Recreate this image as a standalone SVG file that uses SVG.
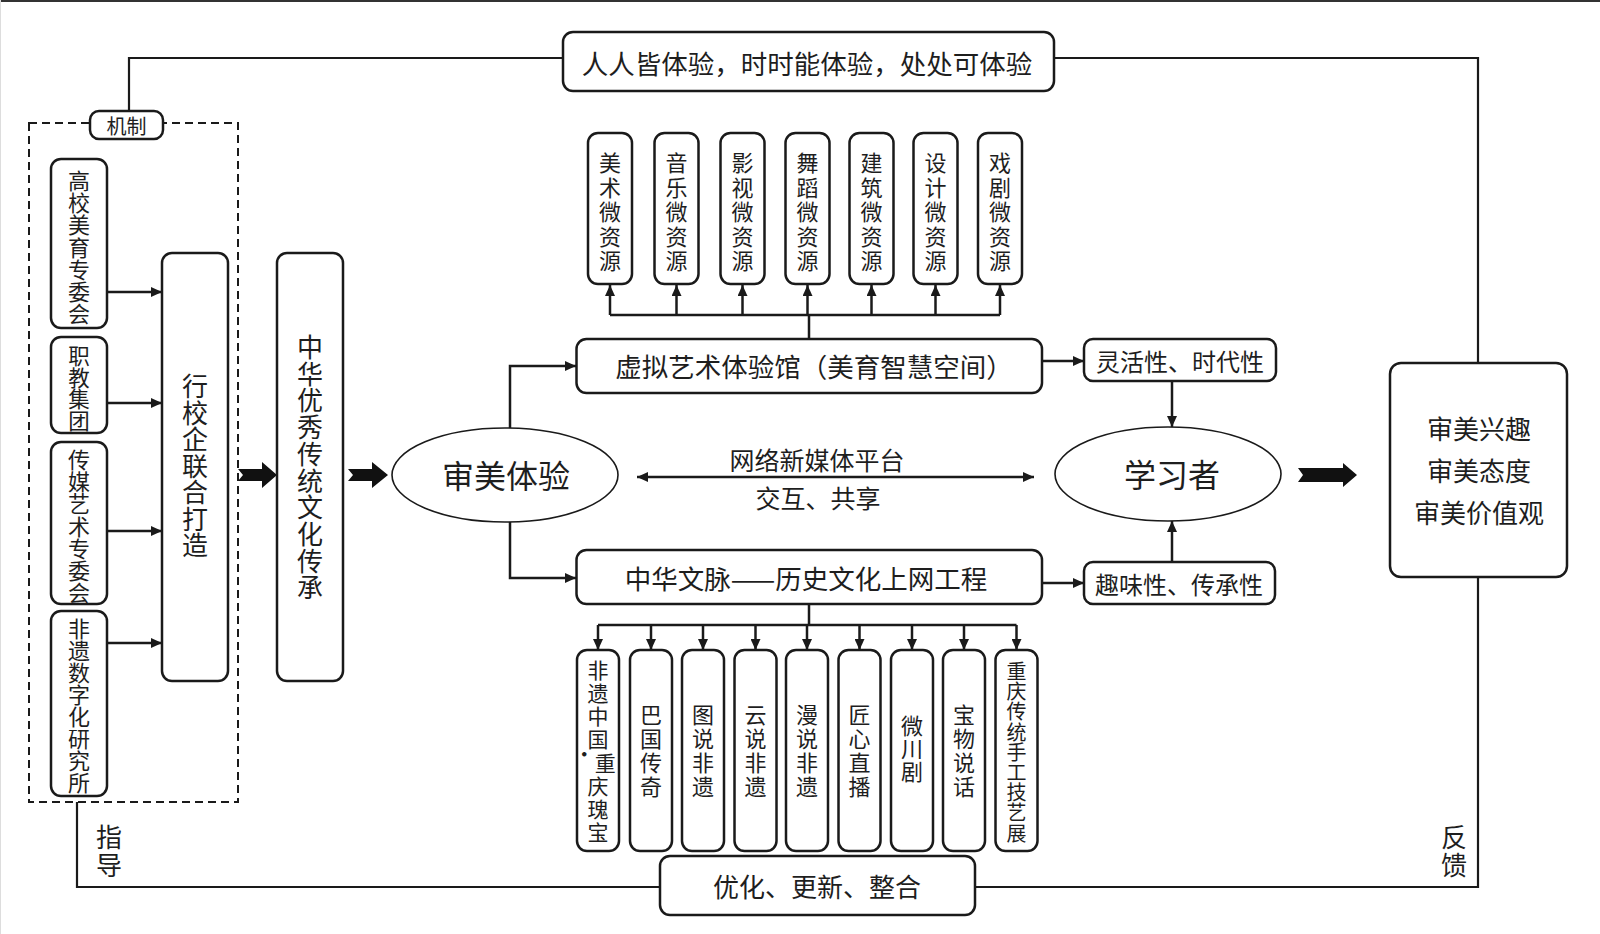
<svg xmlns="http://www.w3.org/2000/svg" width="1600" height="934" viewBox="0 0 1600 934">
<style>
.bx{fill:#fff;stroke:#1a1a1a;stroke-width:2.5}
.el{fill:#fff;stroke:#1a1a1a;stroke-width:1.6}
.ln{fill:none;stroke:#1a1a1a;stroke-width:2.5}
.fl{fill:none;stroke:#1a1a1a;stroke-width:2.2}
.t{font-family:"Noto Sans CJK SC","Noto Sans",sans-serif;fill:#1e1e1e;text-anchor:middle;dominant-baseline:central}
.fat{fill:#111}
</style>
<defs>
<marker id="ah" markerUnits="userSpaceOnUse" markerWidth="11" markerHeight="10" refX="11" refY="5" orient="auto-start-reverse">
<path d="M0,0 L11,5 L0,10 z" fill="#1a1a1a"/>
</marker>
</defs>
<rect x="0" y="0" width="1600" height="934" fill="#fff"/>
<line x1="0" y1="1" x2="1600" y2="1" stroke="#333" stroke-width="2"/>
<line x1="0.5" y1="0" x2="0.5" y2="934" stroke="#ddd" stroke-width="1"/>

<g id="connectors">
<path class="fl" d="M129,111 V58 H563"/>
<path class="fl" d="M1054,58 H1478 V362"/>
<path class="fl" d="M1478,577 V887 H975"/>
<path class="fl" d="M660,887 H77 V802"/>
<line class="ln" x1="107" y1="292" x2="162" y2="292" marker-end="url(#ah)"/>
<line class="ln" x1="107" y1="403" x2="162" y2="403" marker-end="url(#ah)"/>
<line class="ln" x1="107" y1="531" x2="162" y2="531" marker-end="url(#ah)"/>
<line class="ln" x1="107" y1="643" x2="162" y2="643" marker-end="url(#ah)"/>
<path class="fat" d="M238,469 L262,469 L262,462 L277,475 L262,488 L262,481 L238,481 L243,475 Z"/>
<path class="fat" d="M348,469 L372,469 L372,462 L388,475 L372,488 L372,481 L348,481 L353,475 Z"/>
<path class="fat" d="M1298,468 L1343,468 L1343,463 L1357,475 L1343,487 L1343,482 L1298,482 L1303,475 Z"/>
<path class="ln" d="M510,428 V366 H576" marker-end="url(#ah)"/>
<path class="ln" d="M510,522 V578 H576" marker-end="url(#ah)"/>
<line class="ln" x1="637" y1="477" x2="1034" y2="477" marker-start="url(#ah)" marker-end="url(#ah)"/>
<path class="ln" d="M809,339 V315"/>
<path class="ln" d="M610,315 H1000"/>
<line class="ln" x1="610" y1="315" x2="610" y2="285" marker-end="url(#ah)"/>
<line class="ln" x1="676.5" y1="315" x2="676.5" y2="285" marker-end="url(#ah)"/>
<line class="ln" x1="742.5" y1="315" x2="742.5" y2="285" marker-end="url(#ah)"/>
<line class="ln" x1="807.5" y1="315" x2="807.5" y2="285" marker-end="url(#ah)"/>
<line class="ln" x1="871.5" y1="315" x2="871.5" y2="285" marker-end="url(#ah)"/>
<line class="ln" x1="935.5" y1="315" x2="935.5" y2="285" marker-end="url(#ah)"/>
<line class="ln" x1="1000" y1="315" x2="1000" y2="285" marker-end="url(#ah)"/>
<path class="ln" d="M809,604 V625"/>
<path class="ln" d="M598,625 H1016.5"/>
<line class="ln" x1="598" y1="625" x2="598" y2="650" marker-end="url(#ah)"/>
<line class="ln" x1="651" y1="625" x2="651" y2="650" marker-end="url(#ah)"/>
<line class="ln" x1="703" y1="625" x2="703" y2="650" marker-end="url(#ah)"/>
<line class="ln" x1="755.5" y1="625" x2="755.5" y2="650" marker-end="url(#ah)"/>
<line class="ln" x1="807" y1="625" x2="807" y2="650" marker-end="url(#ah)"/>
<line class="ln" x1="859.5" y1="625" x2="859.5" y2="650" marker-end="url(#ah)"/>
<line class="ln" x1="912" y1="625" x2="912" y2="650" marker-end="url(#ah)"/>
<line class="ln" x1="964" y1="625" x2="964" y2="650" marker-end="url(#ah)"/>
<line class="ln" x1="1016.5" y1="625" x2="1016.5" y2="650" marker-end="url(#ah)"/>
<line class="ln" x1="1042" y1="361" x2="1084" y2="361" marker-end="url(#ah)"/>
<line class="ln" x1="1042" y1="583" x2="1084" y2="583" marker-end="url(#ah)"/>
<line class="ln" x1="1172" y1="381" x2="1172" y2="427" marker-end="url(#ah)"/>
<line class="ln" x1="1172" y1="562" x2="1172" y2="521" marker-end="url(#ah)"/>
</g>

<g id="top-slogan">
<rect class="bx" x="563" y="32" width="491" height="59" rx="10"/>
<text class="t" x="807" y="62" font-size="26.5">人人皆体验，时时能体验，处处可体验</text>
</g>

<g id="mechanism-group">
<rect x="29" y="123" width="209" height="679" fill="none" stroke="#1a1a1a" stroke-width="2" stroke-dasharray="8,5"/>
</g>
<g id="jizhi">
<rect class="bx" x="90" y="111" width="73" height="28" rx="9"/>
<text class="t" x="126.5" y="125" font-size="20">机制</text>
</g>

<g id="gaoxiao">
<rect class="bx" x="51" y="159" width="56" height="169" rx="10"/>
<text class="t" font-size="22"><tspan x="79" y="179">高</tspan><tspan x="79" y="201.2">校</tspan><tspan x="79" y="223.4">美</tspan><tspan x="79" y="245.6">育</tspan><tspan x="79" y="267.8">专</tspan><tspan x="79" y="290">委</tspan><tspan x="79" y="312.2">会</tspan></text>
</g>
<g id="zhijiao">
<rect class="bx" x="51" y="337" width="56" height="96" rx="10"/>
<text class="t" font-size="21.5"><tspan x="79" y="354">职</tspan><tspan x="79" y="375.7">教</tspan><tspan x="79" y="397.4">集</tspan><tspan x="79" y="419.1">团</tspan></text>
</g>
<g id="chuanmei">
<rect class="bx" x="51" y="442" width="56" height="162" rx="10"/>
<text class="t" font-size="22"><tspan x="79" y="458">传</tspan><tspan x="79" y="480.2">媒</tspan><tspan x="79" y="502.4">艺</tspan><tspan x="79" y="524.6">术</tspan><tspan x="79" y="546.8">专</tspan><tspan x="79" y="569">委</tspan><tspan x="79" y="591.2">会</tspan></text>
</g>
<g id="feiyi-inst">
<rect class="bx" x="51" y="611" width="56" height="185" rx="10"/>
<text class="t" font-size="22"><tspan x="79" y="627">非</tspan><tspan x="79" y="649">遗</tspan><tspan x="79" y="671">数</tspan><tspan x="79" y="693">字</tspan><tspan x="79" y="715">化</tspan><tspan x="79" y="737">研</tspan><tspan x="79" y="759">究</tspan><tspan x="79" y="781">所</tspan></text>
</g>

<g id="xingxiaoqi">
<rect class="bx" x="162" y="253" width="66" height="428" rx="10"/>
<text class="t" font-size="26"><tspan x="195" y="384">行</tspan><tspan x="195" y="410.5">校</tspan><tspan x="195" y="437">企</tspan><tspan x="195" y="463.5">联</tspan><tspan x="195" y="490">合</tspan><tspan x="195" y="516.5">打</tspan><tspan x="195" y="543">造</tspan></text>
</g>
<g id="zhonghua-culture">
<rect class="bx" x="277" y="253" width="66" height="428" rx="10"/>
<text class="t" font-size="26"><tspan x="310" y="345">中</tspan><tspan x="310" y="371.7">华</tspan><tspan x="310" y="398.4">优</tspan><tspan x="310" y="425.1">秀</tspan><tspan x="310" y="451.8">传</tspan><tspan x="310" y="478.5">统</tspan><tspan x="310" y="505.2">文</tspan><tspan x="310" y="531.9">化</tspan><tspan x="310" y="558.6">传</tspan><tspan x="310" y="585.3">承</tspan></text>
</g>

<g id="shenmei-tiyan">
<ellipse class="el" cx="505" cy="475" rx="113" ry="47"/>
<text class="t" x="506" y="474" font-size="32">审美体验</text>
</g>

<g id="platform-label">
<text class="t" x="817" y="459" font-size="25">网络新媒体平台</text>
<text class="t" x="818" y="497" font-size="25">交互、共享</text>
</g>

<g id="virtual-hall">
<rect class="bx" x="576.5" y="339" width="465.5" height="54" rx="10"/>
<text class="t" x="814" y="365" font-size="26.5">虚拟艺术体验馆（美育智慧空间）</text>
</g>
<g id="zhonghua-wenmai">
<rect class="bx" x="576.5" y="550" width="465.5" height="54" rx="10"/>
<text class="t" x="806" y="577" font-size="26.5">中华文脉——历史文化上网工程</text>
</g>

<g id="micro-meishu"><rect class="bx" x="588" y="133" width="44" height="151" rx="10"/><text class="t" font-size="22"><tspan x="610" y="161">美</tspan><tspan x="610" y="185.5">术</tspan><tspan x="610" y="210">微</tspan><tspan x="610" y="234.5">资</tspan><tspan x="610" y="259">源</tspan></text></g>
<g id="micro-yinyue"><rect class="bx" x="654.5" y="133" width="44" height="151" rx="10"/><text class="t" font-size="22"><tspan x="676.5" y="161">音</tspan><tspan x="676.5" y="185.5">乐</tspan><tspan x="676.5" y="210">微</tspan><tspan x="676.5" y="234.5">资</tspan><tspan x="676.5" y="259">源</tspan></text></g>
<g id="micro-yingshi"><rect class="bx" x="720.5" y="133" width="44" height="151" rx="10"/><text class="t" font-size="22"><tspan x="742.5" y="161">影</tspan><tspan x="742.5" y="185.5">视</tspan><tspan x="742.5" y="210">微</tspan><tspan x="742.5" y="234.5">资</tspan><tspan x="742.5" y="259">源</tspan></text></g>
<g id="micro-wudao"><rect class="bx" x="785.5" y="133" width="44" height="151" rx="10"/><text class="t" font-size="22"><tspan x="807.5" y="161">舞</tspan><tspan x="807.5" y="185.5">蹈</tspan><tspan x="807.5" y="210">微</tspan><tspan x="807.5" y="234.5">资</tspan><tspan x="807.5" y="259">源</tspan></text></g>
<g id="micro-jianzhu"><rect class="bx" x="849.5" y="133" width="44" height="151" rx="10"/><text class="t" font-size="22"><tspan x="871.5" y="161">建</tspan><tspan x="871.5" y="185.5">筑</tspan><tspan x="871.5" y="210">微</tspan><tspan x="871.5" y="234.5">资</tspan><tspan x="871.5" y="259">源</tspan></text></g>
<g id="micro-sheji"><rect class="bx" x="913.5" y="133" width="44" height="151" rx="10"/><text class="t" font-size="22"><tspan x="935.5" y="161">设</tspan><tspan x="935.5" y="185.5">计</tspan><tspan x="935.5" y="210">微</tspan><tspan x="935.5" y="234.5">资</tspan><tspan x="935.5" y="259">源</tspan></text></g>
<g id="micro-xiju"><rect class="bx" x="978" y="133" width="44" height="151" rx="10"/><text class="t" font-size="22"><tspan x="1000" y="161">戏</tspan><tspan x="1000" y="185.5">剧</tspan><tspan x="1000" y="210">微</tspan><tspan x="1000" y="234.5">资</tspan><tspan x="1000" y="259">源</tspan></text></g>

<g id="p-feiyi-zhongguo"><rect class="bx" x="577" y="650" width="42" height="201" rx="10"/><text class="t" font-size="21"><tspan x="598" y="669">非</tspan><tspan x="598" y="692">遗</tspan><tspan x="598" y="715">中</tspan><tspan x="598" y="738">国</tspan><tspan x="594.8" y="762"><tspan dy="-9">·</tspan><tspan dy="9">重</tspan></tspan><tspan x="598" y="785">庆</tspan><tspan x="598" y="808">瑰</tspan><tspan x="598" y="831">宝</tspan></text></g>
<g id="p-baguo"><rect class="bx" x="630" y="650" width="42" height="201" rx="10"/><text class="t" font-size="22"><tspan x="651" y="713">巴</tspan><tspan x="651" y="737">国</tspan><tspan x="651" y="761">传</tspan><tspan x="651" y="785">奇</tspan></text></g>
<g id="p-tushuo"><rect class="bx" x="682" y="650" width="42" height="201" rx="10"/><text class="t" font-size="22"><tspan x="703" y="713">图</tspan><tspan x="703" y="737">说</tspan><tspan x="703" y="761">非</tspan><tspan x="703" y="785">遗</tspan></text></g>
<g id="p-yunshuo"><rect class="bx" x="734.5" y="650" width="42" height="201" rx="10"/><text class="t" font-size="22"><tspan x="755.5" y="713">云</tspan><tspan x="755.5" y="737">说</tspan><tspan x="755.5" y="761">非</tspan><tspan x="755.5" y="785">遗</tspan></text></g>
<g id="p-manshuo"><rect class="bx" x="786" y="650" width="42" height="201" rx="10"/><text class="t" font-size="22"><tspan x="807" y="713">漫</tspan><tspan x="807" y="737">说</tspan><tspan x="807" y="761">非</tspan><tspan x="807" y="785">遗</tspan></text></g>
<g id="p-jiangxin"><rect class="bx" x="838.5" y="650" width="42" height="201" rx="10"/><text class="t" font-size="22"><tspan x="859.5" y="713">匠</tspan><tspan x="859.5" y="737">心</tspan><tspan x="859.5" y="761">直</tspan><tspan x="859.5" y="785">播</tspan></text></g>
<g id="p-weichuan"><rect class="bx" x="891" y="650" width="42" height="201" rx="10"/><text class="t" font-size="22"><tspan x="912" y="724">微</tspan><tspan x="912" y="747">川</tspan><tspan x="912" y="770">剧</tspan></text></g>
<g id="p-baowu"><rect class="bx" x="943" y="650" width="42" height="201" rx="10"/><text class="t" font-size="22"><tspan x="964" y="713">宝</tspan><tspan x="964" y="737">物</tspan><tspan x="964" y="761">说</tspan><tspan x="964" y="785">话</tspan></text></g>
<g id="p-chongqing"><rect class="bx" x="995.5" y="650" width="42" height="201" rx="10"/><text class="t" font-size="20"><tspan x="1016.5" y="670">重</tspan><tspan x="1016.5" y="690.2">庆</tspan><tspan x="1016.5" y="710.4">传</tspan><tspan x="1016.5" y="730.6">统</tspan><tspan x="1016.5" y="750.8">手</tspan><tspan x="1016.5" y="771">工</tspan><tspan x="1016.5" y="791.2">技</tspan><tspan x="1016.5" y="811.4">艺</tspan><tspan x="1016.5" y="831.6">展</tspan></text></g>

<g id="optimize">
<rect class="bx" x="660" y="856" width="315" height="59" rx="10"/>
<text class="t" x="817" y="885" font-size="26">优化、更新、整合</text>
</g>

<g id="linghuo">
<rect class="bx" x="1084" y="339" width="192" height="42" rx="9"/>
<text class="t" x="1180" y="360" font-size="24">灵活性、时代性</text>
</g>
<g id="quwei">
<rect class="bx" x="1084" y="562" width="191" height="42" rx="9"/>
<text class="t" x="1179" y="583" font-size="24">趣味性、传承性</text>
</g>

<g id="learner">
<ellipse class="el" cx="1168" cy="474" rx="113" ry="47"/>
<text class="t" x="1172" y="473" font-size="32">学习者</text>
</g>

<g id="aesthetic-outcome">
<rect class="bx" x="1390" y="363" width="177" height="214" rx="11"/>
<text class="t" x="1479" y="427" font-size="26">审美兴趣</text>
<text class="t" x="1479" y="469" font-size="26">审美态度</text>
<text class="t" x="1479" y="511" font-size="26">审美价值观</text>
</g>

<g id="labels">
<text class="t" font-size="26"><tspan x="109" y="835">指</tspan><tspan x="109" y="863">导</tspan></text>
<text class="t" font-size="26"><tspan x="1454" y="835">反</tspan><tspan x="1454" y="863">馈</tspan></text>
</g>
</svg>
